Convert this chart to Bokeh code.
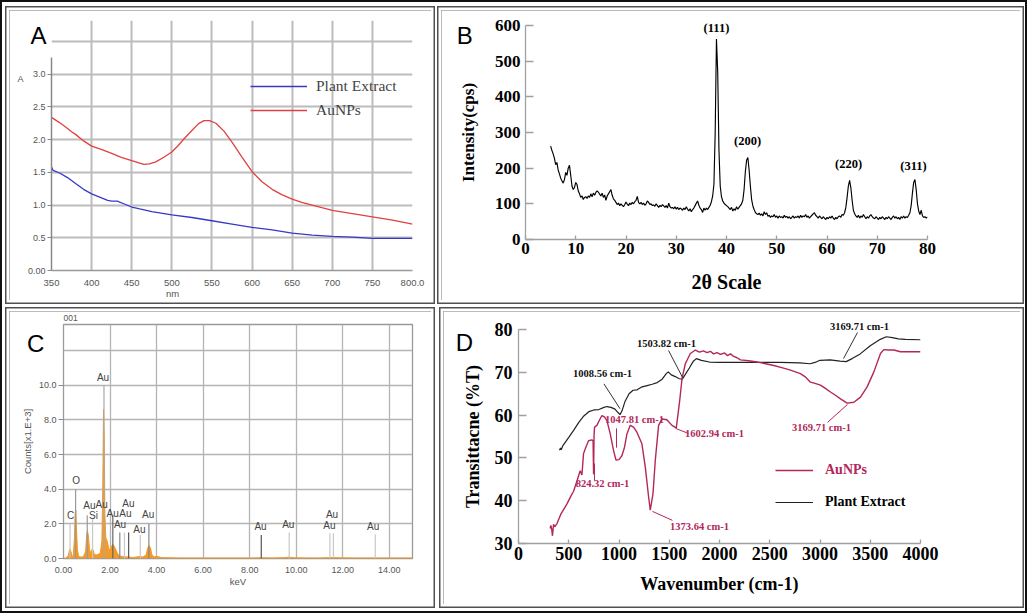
from bokeh.plotting import figure
from bokeh.layouts import row, column
from bokeh.models import (FixedTicker, Span, Range1d, Legend, LegendItem, Spacer,
                          ColumnDataSource, NumeralTickFormatter)
from bokeh.embed import file_html
from bokeh.resources import INLINE
from bokeh.core.properties import value

SERIF = "Liberation Serif"
SANS = "Liberation Sans"

# ---------------- Panel A : UV-Vis ----------------
uv_nm_au = [350, 360, 370, 375, 380, 390, 400, 412, 425, 437, 450, 458, 465, 472, 480, 490,
            500, 508, 515, 525, 533, 540, 547, 555, 565, 575, 587, 600, 612, 625, 637, 650,
            662, 675, 687, 700, 725, 750, 775, 800]
uv_abs_au = [2.34, 2.26, 2.17, 2.12, 2.08, 1.98, 1.90, 1.85, 1.79, 1.73, 1.68, 1.65, 1.62, 1.63,
             1.66, 1.73, 1.81, 1.91, 2.01, 2.14, 2.24, 2.29, 2.29, 2.25, 2.13, 1.96, 1.74, 1.51,
             1.36, 1.24, 1.16, 1.09, 1.04, 1.00, 0.96, 0.92, 0.87, 0.82, 0.77, 0.71]
uv_nm_plant = [350, 352, 360, 370, 380, 390, 400, 410, 420, 425, 432, 440, 450, 460, 475, 500,
               525, 550, 575, 600, 625, 650, 675, 700, 725, 750, 775, 800]
uv_abs_plant = [1.58, 1.53, 1.49, 1.42, 1.33, 1.24, 1.17, 1.12, 1.07, 1.06, 1.06, 1.02, 0.97,
                0.94, 0.90, 0.85, 0.81, 0.76, 0.71, 0.66, 0.62, 0.57, 0.54, 0.52, 0.51, 0.49,
                0.49, 0.49]
uv_xticks = [350, 400, 450, 500, 550, 600, 650, 700, 750, 800]
uv_yticks = [0, 0.5, 1.0, 1.5, 2.0, 2.5, 3.0]

# ---------------- Panel B : XRD ----------------
two_theta = [round(5 + 0.25 * i, 2) for i in range(301)]
xrd_intensity = [
    262, 250, 240, 228, 210, 216, 195, 184, 172, 165, 158, 168, 188, 180, 200, 208,
    180, 150, 140, 146, 160, 154, 136, 128, 118, 122, 112, 118, 120, 115, 122, 118,
    128, 120, 130, 124, 132, 136, 133, 127, 122, 130, 118, 125, 110, 122, 128, 134,
    140, 124, 114, 110, 104, 98, 102, 95, 100, 96, 92, 98, 105, 99, 95, 102,
    98, 104, 100, 106, 110, 121, 104, 100, 104, 98, 102, 96, 100, 108, 104, 98,
    100, 95, 97, 93, 100, 95, 90, 96, 92, 98, 94, 90, 95, 88, 102, 92,
    88, 90, 86, 92, 85, 90, 84, 88, 86, 82, 88, 84, 92, 85, 80, 86,
    78, 84, 88, 95, 102, 108, 96, 88, 84, 76, 88, 82, 88, 84, 90, 96,
    106, 122, 155, 300, 562, 470, 250, 150, 120, 108, 102, 98, 95, 92, 88, 84,
    90, 80, 86, 82, 92, 85, 90, 95, 100, 110, 140, 190, 222, 230, 195, 150,
    112, 94, 84, 76, 72, 70, 74, 68, 72, 66, 78, 70, 75, 65, 68, 62,
    66, 64, 70, 62, 66, 60, 66, 62, 64, 60, 68, 62, 65, 60, 64, 58,
    62, 66, 60, 64, 62, 66, 60, 68, 62, 66, 64, 70, 62, 66, 60, 64,
    68, 72, 75, 68, 64, 60, 66, 62, 58, 64, 60, 56, 62, 58, 64, 60,
    66, 60, 56, 62, 58, 64, 66, 62, 70, 68, 75, 90, 118, 150, 166, 145,
    110, 82, 72, 66, 62, 68, 60, 66, 62, 70, 64, 58, 64, 60, 66, 70,
    64, 60, 58, 64, 60, 56, 62, 58, 64, 60, 56, 62, 58, 64, 60, 56,
    62, 66, 60, 64, 58, 62, 56, 64, 60, 66, 60, 64, 62, 68, 75, 95,
    130, 160, 168, 140, 100, 80, 70, 82, 66, 62, 64, 60, 63]
xrd_xticks = [0, 10, 20, 30, 40, 50, 60, 70, 80]
xrd_yticks = [0, 100, 200, 300, 400, 500, 600]
xrd_peak_labels = ["(111)", "(200)", "(220)", "(311)"]
xrd_peak_x = [38.0, 44.2, 64.3, 77.2]
xrd_peak_y = [594, 275, 213, 205]

# ---------------- Panel C : EDX ----------------
edx_kev = [0.0, 0.1, 0.2, 0.25, 0.28, 0.32, 0.38, 0.42, 0.47, 0.5, 0.53, 0.56, 0.6, 0.65, 0.75,
           0.85, 0.95, 1.0, 1.03, 1.07, 1.12, 1.18, 1.23, 1.27, 1.32, 1.4, 1.5, 1.58, 1.65,
           1.69, 1.72, 1.75, 1.78, 1.82, 1.88, 1.95, 2.02, 2.08, 2.12, 2.18, 2.25, 2.32, 2.4,
           2.6, 2.8, 3.0, 3.3, 3.4, 3.55, 3.62, 3.68, 3.74, 3.8, 3.9, 4.0, 4.1, 4.2, 5.0, 6.0,
           7.0, 8.0, 8.5, 9.0, 9.5, 9.7, 9.9, 10.5, 11.0, 11.4, 11.6, 11.8, 12.5, 13.4, 15.0]
edx_counts = [0.0, 0.02, 0.15, 0.45, 0.55, 0.4, 0.1, 0.15, 1.2, 2.6, 2.8, 1.6, 0.5, 0.12, 0.08,
              0.1, 0.4, 1.4, 1.6, 1.3, 0.5, 0.3, 0.55, 0.5, 0.25, 0.2, 0.25, 0.3, 1.0,
              4.5, 8.6, 7.0, 2.5, 1.2, 1.0, 0.55, 0.5, 0.75, 0.82, 0.7, 0.5, 0.3, 0.15,
              0.1, 0.08, 0.06, 0.12, 0.08, 0.2, 0.6, 0.75, 0.6, 0.2, 0.1, 0.12, 0.1, 0.05, 0.03,
              0.03, 0.03, 0.03, 0.04, 0.03, 0.05, 0.08, 0.04, 0.03, 0.03, 0.05, 0.06, 0.04, 0.03,
              0.03, 0.03]
edx_line_kev = [0.28, 0.52, 1.02, 1.25, 1.74, 2.12, 2.42, 2.62, 2.80, 3.30, 3.67, 8.50, 9.70,
                11.45, 11.60, 13.40]
edx_line_top = [2.0, 4.0, 2.5, 2.3, 10.0, 2.5, 1.5, 1.5, 1.5, 1.35, 2.0, 1.35, 1.5, 1.45, 1.45, 1.4]
edx_line_color = ["#c8c8c8", "#999999", "#999999", "#c8c8c8", "#aaaaaa", "#666666", "#888888",
                  "#c8c8c8", "#555555", "#c8c8c8", "#888888", "#555555", "#c8c8c8", "#c8c8c8",
                  "#c8c8c8", "#c8c8c8"]
edx_label_text = ["C", "O", "Au", "Si", "Au", "Au", "Au", "Au", "Au", "Au", "Au", "Au", "Au",
                  "Au", "Au", "Au", "Au"]
edx_label_kev = [0.31, 0.54, 1.11, 1.29, 1.64, 1.70, 2.11, 2.43, 2.66, 2.79, 3.26, 3.64, 8.47,
                 9.66, 11.43, 11.54, 13.31]
edx_label_cnt = [2.47, 4.48, 3.04, 2.46, 3.10, 10.44, 2.60, 1.94, 2.60, 3.19, 1.69, 2.56, 1.85,
                 1.94, 1.88, 2.56, 1.85]
edx_xticks = [0, 2, 4, 6, 8, 10, 12, 14]
edx_yticks = [0, 2, 4, 6, 8, 10]
edx_ygrid = [0, 2, 4, 6, 8, 10, 12]

# ---------------- Panel D : FTIR ----------------
ir_wn_au = [315, 322, 330, 338, 349, 360, 382, 420, 481, 520, 548, 580, 614, 631, 647, 670, 697,
            730, 742, 747, 752, 757, 780, 805, 830, 855, 880, 913, 946, 970, 1000, 1029, 1055,
            1079, 1112, 1145, 1178, 1228, 1262, 1295, 1311, 1338, 1361, 1394, 1428, 1477, 1527,
            1570, 1604, 1627, 1660, 1710, 1760, 1800, 1840, 1876, 1910, 1940, 1975, 2009, 2050,
            2080, 2110, 2141, 2175, 2208, 2290, 2374, 2460, 2540, 2620, 2706, 2805, 2850, 2905,
            2950, 3005, 3050, 3104, 3150, 3204, 3270, 3337, 3403, 3469, 3536, 3602, 3635, 3680,
            3735, 3801, 3900, 4000]
ir_t_au = [33.5, 34.2, 33.4, 31.8, 34.5, 33.9, 34.6, 36.8, 39.2, 41.0, 42.2, 44.5, 47.0, 46.0,
           51.0, 52.5, 54.0, 54.2, 54.0, 46.2, 55.5, 57.2, 57.6, 58.8, 59.9, 59.6, 58.7, 55.6,
           51.7, 49.5, 49.6, 50.5, 52.5, 55.6, 57.6, 57.2, 56.0, 53.3, 47.8, 40.8, 37.8, 41.6,
           49.4, 57.6, 59.1, 58.9, 57.6, 57.0, 63.4, 68.5, 72.0, 74.4, 75.2, 74.7, 75.0, 74.6,
           74.9, 74.3, 74.6, 74.2, 74.5, 73.9, 74.3, 73.7, 73.4, 72.9, 72.7, 72.4, 72.0, 71.6,
           71.1, 70.5, 69.7, 69.0, 67.7, 67.4, 67.0, 66.3, 65.4, 64.7, 63.8, 62.8, 63.0, 64.2,
           66.6, 70.1, 74.4, 75.3, 75.2, 75.2, 74.8, 74.8, 74.8]
ir_wn_plant = [408, 418, 425, 440, 470, 500, 550, 600, 650, 700, 750, 800, 850, 880, 920, 960,
               990, 1010, 1030, 1060, 1100, 1140, 1180, 1230, 1280, 1330, 1380, 1430, 1470,
               1490, 1520, 1560, 1600, 1630, 1660, 1700, 1740, 1770, 1820, 1900, 2000, 2200,
               2400, 2600, 2800, 2900, 2950, 3000, 3100, 3200, 3260, 3320, 3400, 3500, 3600,
               3660, 3720, 3780, 3850, 4000]
ir_t_plant = [51.8, 52.3, 51.9, 52.8, 53.8, 54.8, 56.5, 58.3, 59.8, 60.8, 61.2, 61.3, 61.8,
              62.0, 61.8, 61.4, 60.6, 60.1, 61.0, 63.2, 65.0, 65.8, 65.9, 66.6, 66.9, 67.2,
              67.6, 68.4, 69.7, 70.1, 69.4, 69.0, 68.5, 68.4, 69.5, 71.0, 72.6, 73.2, 72.8,
              72.4, 72.3, 72.3, 72.3, 72.3, 72.2, 72.0, 72.3, 72.8, 72.9, 72.6, 72.5, 73.2,
              74.3, 76.2, 77.7, 78.3, 78.1, 77.8, 77.7, 77.6]
ir_xticks = [0, 500, 1000, 1500, 2000, 2500, 3000, 3500, 4000]
ir_yticks = [30, 40, 50, 60, 70, 80]
ir_ann_text = ["1008.56 cm-1", "1503.82 cm-1", "3169.71 cm-1", "1047.81 cm-1", "1602.94 cm-1",
               "824.32 cm-1", "1373.64 cm-1", "3169.71 cm-1"]

BLUE = "#3838c8"
RED = "#e04040"
CRIMSON = "#b3275a"
ORANGE = "#f39a2a"
PANEL_STYLE = {"outline": "1.5px solid #a4a4a4", "outline-offset": "-1.5px",
               "box-shadow": "0 0 0 2.5px white, 0 0 0 4px #505050"}


def base_fig(w, h, xr, yr, bl, br, bt, bb):
    p = figure(width=w, height=h, x_range=Range1d(*xr), y_range=Range1d(*yr),
               output_backend="svg", toolbar_location=None,
               min_border_left=bl, min_border_right=br, min_border_top=bt,
               min_border_bottom=bb, background_fill_color="white",
               border_fill_color="white", frame_align=False)
    p.outline_line_color = None
    p.styles = PANEL_STYLE
    return p


def overlay_text(p, xs, ys, texts, font=SANS, size="24px", color="black", style="normal",
                 align="center", angle=0.0):
    # text glyph on the overlay level so it is not clipped to the frame
    src = ColumnDataSource(dict(x=xs, y=ys, t=texts))
    p.text(x="x", y="y", text="t", source=src, text_font=value(font), text_font_size=size,
           text_color=color, text_font_style=style, text_align=align,
           text_baseline="middle", angle=angle, level="overlay")


# ===== Panel A =====
pA = base_fig(422, 290, (350, 800), (0, 3.82), 42, 19, 10, 30)
pA.xgrid.ticker = FixedTicker(ticks=uv_xticks)
pA.ygrid.ticker = FixedTicker(ticks=uv_yticks[1:])
for g in (pA.xgrid, pA.ygrid):
    g.grid_line_color = "#bcbcbc"
    g.grid_line_width = 2
pA.add_layout(Span(location=3.5, dimension="width", line_color="#bcbcbc", line_width=2))
r_pl = pA.line(uv_nm_plant, uv_abs_plant, line_color=BLUE, line_width=1.3)
r_au = pA.line(uv_nm_au, uv_abs_au, line_color=RED, line_width=1.3)
ax = pA.xaxis[0]
ax.ticker = FixedTicker(ticks=uv_xticks)
ax.major_label_overrides = {800: "800.0"}
ax.axis_line_color = "#999999"
ax.axis_line_width = 1.5
ax.major_tick_line_color = None
ax.minor_tick_line_color = None
ax.major_label_text_font = SANS
ax.major_label_text_font_size = "9.5px"
ax.major_label_text_color = "#555555"
ax.major_label_standoff = 3
ay = pA.yaxis[0]
ay.ticker = FixedTicker(ticks=uv_yticks)
ay.formatter = NumeralTickFormatter(format="0.0")
ay.major_label_overrides = {0: "0.00"}
ay.bounds = (0, 3.26)
ay.axis_line_color = "#888888"
ay.axis_line_width = 1.5
ay.major_tick_in = 0
ay.major_tick_out = 4
ay.major_tick_line_color = "#888888"
ay.minor_tick_line_color = None
ay.major_label_text_font = SANS
ay.major_label_text_font_size = "9px"
ay.major_label_text_color = "#555555"
ay.major_label_standoff = 2
overlay_text(pA, [500.8], [-0.35], ["nm"], size="9.5px", color="#555555")
overlay_text(pA, [311.4], [2.92], ["A"], size="9px", color="#555555")
overlay_text(pA, [333.8], [3.59], ["A"])
legA = Legend(items=[LegendItem(label="Plant Extract", renderers=[r_pl]),
                     LegendItem(label="AuNPs", renderers=[r_au])],
              location=(199, 150), glyph_width=57, glyph_height=20, label_height=20,
              spacing=4, padding=0, margin=0, label_standoff=9,
              label_text_font=SERIF, label_text_font_size="15.5px",
              background_fill_alpha=0, border_line_color=None)
pA.add_layout(legA)


def serif_axes(p, xticks, yticks, lsize):
    for a in (p.xaxis[0], p.yaxis[0]):
        a.axis_line_color = "#a0a0a0"
        a.axis_line_width = 1.3
        a.major_tick_line_color = "#a0a0a0"
        a.major_tick_line_width = 1.3
        a.minor_tick_line_color = None
        a.major_tick_out = 0
        a.major_label_text_font = SERIF
        a.major_label_text_font_style = "bold"
        a.major_label_text_font_size = lsize
        a.major_label_text_color = "black"
        a.axis_label_text_font = SERIF
        a.axis_label_text_font_style = "bold"
        a.axis_label_text_color = "black"
    p.xaxis[0].ticker = FixedTicker(ticks=xticks)
    p.yaxis[0].ticker = FixedTicker(ticks=yticks)
    p.xaxis[0].major_tick_in = 4
    p.yaxis[0].major_tick_in = 8
    p.xgrid.visible = False
    p.ygrid.visible = False


# ===== Panel B =====
pB = base_fig(579, 290, (0, 80), (0, 600), 84, 93, 15, 61)
serif_axes(pB, xrd_xticks, xrd_yticks, "17px")
pB.xaxis[0].major_label_standoff = 3
pB.yaxis[0].major_label_standoff = 5
pB.xaxis[0].axis_label = "2θ Scale"
pB.xaxis[0].axis_label_text_font_size = "20px"
pB.xaxis[0].axis_label_standoff = 14
pB.yaxis[0].axis_label = "Intensity(cps)"
pB.yaxis[0].axis_label_text_font_size = "17px"
pB.yaxis[0].axis_label_standoff = 14
pB.line(two_theta, xrd_intensity, line_color="black", line_width=1.15)
overlay_text(pB, xrd_peak_x, xrd_peak_y, xrd_peak_labels, font=SERIF, size="12.5px",
             style="bold")
overlay_text(pB, [-12.1], [572], ["B"])

# ===== Panel C =====
pC = base_fig(422, 293, (0, 15), (0, 13.5), 54, 19, 13, 46)
pC.outline_line_color = "#9a9a9a"
pC.outline_line_width = 1.3
pC.xgrid.ticker = FixedTicker(ticks=edx_xticks)
pC.ygrid.ticker = FixedTicker(ticks=edx_ygrid)
for g in (pC.xgrid, pC.ygrid):
    g.grid_line_color = "#b4b4b4"
    g.grid_line_width = 1.3
pC.varea(x=edx_kev, y1=0, y2=edx_counts, fill_color=ORANGE)
pC.line(edx_kev, edx_counts, line_color=ORANGE, line_width=1)
pC.segment(x0=edx_line_kev, y0=0, x1=edx_line_kev, y1=edx_line_top,
           line_color=edx_line_color, line_width=1.2)
src_c = ColumnDataSource(dict(x=edx_label_kev, y=edx_label_cnt, t=edx_label_text))
pC.text(x="x", y="y", text="t", source=src_c, text_font=value(SANS), text_font_size="10px",
        text_color="#444444", text_align="center", text_baseline="middle")
cx = pC.xaxis[0]
cx.ticker = FixedTicker(ticks=edx_xticks)
cx.formatter = NumeralTickFormatter(format="0.00")
cy = pC.yaxis[0]
cy.ticker = FixedTicker(ticks=edx_yticks)
cy.formatter = NumeralTickFormatter(format="0.0")
for a in (cx, cy):
    a.axis_line_color = None
    a.minor_tick_line_color = None
    a.major_label_text_font = SANS
    a.major_label_text_font_size = "9px"
    a.major_label_text_color = "#555555"
    a.axis_label_text_font = SANS
    a.axis_label_text_font_size = "9.5px"
    a.axis_label_text_font_style = "normal"
    a.axis_label_text_color = "#555555"
cx.major_tick_line_color = None
cx.major_label_standoff = 2
cx.axis_label = "keV"
cx.axis_label_standoff = 0
cy.major_tick_in = 0
cy.major_tick_out = 5
cy.major_tick_line_color = "#888888"
cy.major_label_standoff = 2
cy.axis_label = "Counts[x1.E+3]"
cy.axis_label_standoff = 3
overlay_text(pC, [0.0], [13.85], ["001"], size="8.5px", color="#555555", align="left")
overlay_text(pC, [-1.2], [12.4], ["C"])

# ===== Panel D =====
pD = base_fig(577, 293, (0, 4000), (30, 80), 75, 100, 18, 61)
serif_axes(pD, ir_xticks, ir_yticks, "18px")
pD.xaxis[0].major_label_standoff = 3
pD.yaxis[0].major_label_standoff = 6
pD.xaxis[0].axis_label = "Wavenumber (cm-1)"
pD.xaxis[0].axis_label_text_font_size = "18px"
pD.xaxis[0].axis_label_standoff = 11
pD.yaxis[0].axis_label = "Transittacne (%T)"
pD.yaxis[0].axis_label_text_font_size = "18px"
pD.yaxis[0].axis_label_standoff = 9
r_irp = pD.line(ir_wn_plant, ir_t_plant, line_color="#222222", line_width=1.2)
r_ira = pD.line(ir_wn_au, ir_t_au, line_color=CRIMSON, line_width=1.4)

# annotation leader lines and texts (placed in panel D data coordinates)
lead_x0 = [850, 1493, 3373, 975, 1562, 756, 1333, 3075]
lead_y0 = [67.3, 75.1, 79.3, 56.9, 56.9, 48.7, 37.5, 58.3]
lead_x1 = [1010, 1632, 3234, 975, 1692, 756, 1532, 3274]
lead_y1 = [61.5, 68.8, 73.2, 52.4, 55.7, 44.7, 35.4, 62.5]
lead_col = ["#333333", "#333333", "#333333", CRIMSON, CRIMSON, CRIMSON, CRIMSON, CRIMSON]
pD.segment(x0=lead_x0, y0=lead_y0, x1=lead_x1, y1=lead_y1, line_color=lead_col, line_width=1)
ann_x = [836, 1473, 3393, 1154, 1950, 836, 1801, 3015]
ann_y = [69.7, 76.7, 80.7, 59.0, 55.7, 44.0, 34.0, 57.1]
overlay_text(pD, ann_x[:3], ann_y[:3], ir_ann_text[:3], font=SERIF, size="10.5px",
             color="#111111", style="bold")
overlay_text(pD, ann_x[3:], ann_y[3:], ir_ann_text[3:], font=SERIF, size="10.5px",
             color=CRIMSON, style="bold")
legD1 = Legend(items=[LegendItem(label="AuNPs", renderers=[r_ira])], location=(257, 63),
               glyph_width=38, glyph_height=20, label_height=20, padding=0, margin=0,
               label_standoff=12, label_text_font=SERIF, label_text_font_style="bold",
               label_text_font_size="14px", label_text_color=CRIMSON,
               background_fill_alpha=0, border_line_color=None)
legD2 = Legend(items=[LegendItem(label="Plant Extract", renderers=[r_irp])], location=(257, 31),
               glyph_width=38, glyph_height=20, label_height=20, padding=0, margin=0,
               label_standoff=12, label_text_font=SERIF, label_text_font_style="bold",
               label_text_font_size="14px", label_text_color="black",
               background_fill_alpha=0, border_line_color=None)
pD.add_layout(legD1)
pD.add_layout(legD2)
overlay_text(pD, [-537], [77], ["D"])

layout = column(
    Spacer(height=10),
    row(Spacer(width=9), pA, Spacer(width=10), pB, Spacer(width=7)),
    Spacer(height=11),
    row(Spacer(width=9), pC, Spacer(width=12), pD, Spacer(width=7)),
    Spacer(height=9),
    styles={"outline": "2.5px solid #111111", "outline-offset": "-2.5px"},
)
open("out.html", "w").write(file_html(layout, INLINE))
